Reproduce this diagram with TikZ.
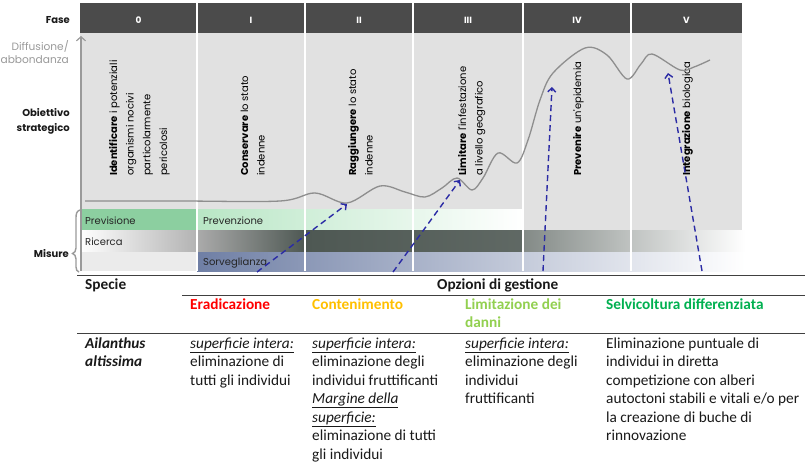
\documentclass[tikz,border=0pt]{standalone}
\usepackage{fontspec}
\setmainfont{Carlito}
\newfontfamily\popf{Poppins}
\usetikzlibrary{arrows.meta}
\definecolor{hdr}{HTML}{4B4B4B}
\definecolor{bodyg}{HTML}{E1E1E1}
\definecolor{axisg}{HTML}{9A9A9A}
\definecolor{curveg}{HTML}{8E8E8E}
\definecolor{arrb}{HTML}{2B2BA5}
\definecolor{grnA}{HTML}{8CCFA0}
\definecolor{grnB}{HTML}{B8E6C5}
\definecolor{darkb}{HTML}{4E5853}
\definecolor{survA}{HTML}{6F7FA5}
\definecolor{erad}{HTML}{FF0000}
\definecolor{cont}{HTML}{FFC000}
\definecolor{limitc}{HTML}{92D050}
\definecolor{selv}{HTML}{00B050}
\begin{document}
\begin{tikzpicture}[x=1pt,y=-1pt,
  hdrtxt/.style={text=white, font={\popf\bfseries\fontsize{9}{10}\selectfont}, inner sep=0, anchor=base},
  lbl/.style={font={\popf\bfseries\fontsize{10}{11}\selectfont}, text=black!90, inner sep=0, anchor=base east},
  difflbl/.style={font={\popf\fontsize{10.6}{11}\selectfont}, text=axisg, inner sep=0, anchor=base east},
  objtxt/.style={rotate=90, anchor=base west, inner sep=0, font={\popf\fontsize{10}{16.7}\selectfont}, text=black},
  bandtxt/.style={anchor=base west, inner sep=0, font={\popf\fontsize{10}{11}\selectfont}, text=black!85},
  tabtxt/.style={anchor=base west, inner sep=0, font={\fontsize{15.3}{18.5}\selectfont}, text=black!90},
  dasharr/.style={draw=arrb, line width=1.4pt, dash pattern=on 6pt off 4pt, -{Straight Barb[length=4pt,width=8pt]}},
  tabline/.style={draw=black!75, line width=0.9pt},
  divider/.style={draw=white, line width=1.3pt}]
\useasboundingbox (0,0) rectangle (805,466);
\fill[white] (0,0) rectangle (805,466);
% header and body
\fill[hdr] (80,3) rectangle (742,33);
\fill[bodyg] (80,33) rectangle (742,230.5);
% bands
\fill[grnA] (80,209) rectangle (197,230.5);
\shade[left color=grnB, right color=white] (197,209) rectangle (523,230.5);
\shade[left color=white, right color=black!30] (80,230.5) rectangle (197,252);
\shade[left color=black!33, right color=darkb] (197,230.5) rectangle (305,252);
\shade[left color=darkb, right color=darkb!90!white] (305,230.5) rectangle (523,252);
\shade[left color=darkb!70!white, right color=white] (523,230.5) rectangle (745,252);
\fill[black!8] (80,252) rectangle (197,271);
\shade[left color=survA, right color=white] (197,252) rectangle (745,271);
% dividers
\foreach \xx in {197,305,413,523,631} \draw[divider] (\xx,3) -- (\xx,271);
% header labels
\node[hdrtxt] (h0) at (138.5,23) {0};
\node[hdrtxt] (h1) at (251,23) {I};
\node[hdrtxt] (h2) at (359,23) {II};
\node[hdrtxt] (h3) at (468,23) {III};
\node[hdrtxt] (h4) at (577,23) {IV};
\node[hdrtxt] (h5) at (686.5,23) {V};
% left labels
\node[lbl] (fase) at (70,23) {Fase};
\node[difflbl] (diff1) at (69,50) {Diffusione/};
\node[difflbl] (diff2) at (69,63) {abbondanza};
\node[lbl] (obj1) at (70,116) {Obiettivo};
\node[lbl] (obj2) at (70,131) {strategico};
\node[lbl] (mis) at (69,257) {Misure};
% axis
\coordinate (axb) at (81,271);
\coordinate (axt) at (81,36);
\draw[axisg, line width=1.2pt, -{Straight Barb[length=4pt,width=9pt]}] (axb) -- (axt);
% brace
\draw[axisg, line width=1.4pt] (80,210) .. controls (76.5,211) and (76,214) .. (76,218) -- (76,248)
  .. controls (76,251) and (74.5,253) .. (72.5,253.5) .. controls (74.5,254) and (76,256) .. (76,259)
  -- (76,267) .. controls (76,270) and (77,271) .. (79,272);
% objective texts
\node[objtxt] (o0) at (117,176) {\vtop{\hbox{\textbf{Identificare} i potenziali}\hbox{organismi nocivi}\hbox{particolarmente}\hbox{pericolosi}}};
\node[objtxt] (o1) at (248,176) {\vtop{\hbox{\textbf{Conservare} lo stato}\hbox{indenne}}};
\node[objtxt] (o2) at (356,176) {\vtop{\hbox{\textbf{Raggiungere} lo stato}\hbox{indenne}}};
\node[objtxt] (o3) at (466,176) {\vtop{\hbox{\textbf{Limitare} l'infestazione}\hbox{a livello geografico}}};
\node[objtxt] (o4) at (581,176) {\vtop{\hbox{\textbf{Prevenire} un'epidemia}}};
\node[objtxt] (o5) at (690,176) {\vtop{\hbox{\textbf{Integrazione} biologica}}};
% band labels
\node[bandtxt] (b1) at (85,224) {Previsione};
\node[bandtxt] (b2) at (203,224) {Prevenzione};
\node[bandtxt] (b3) at (85,245) {Ricerca};
\node[bandtxt] (b4) at (203,265) {Sorveglianza};
% curve
\draw[curveg, line width=1.3pt] plot[smooth, tension=0.55] coordinates {
 (85,201) (180,201) (280,201) (315,193) (347,203) (380,186) (405,192) (425,197) (442,188)
 (457,178) (472,190) (483,178) (498,153) (517,163) (528,140) (540,100) (553,73) (585,48)
 (607,55) (627,79) (641,64) (652,54) (680,70) (694,67) (710,60)};
% arrows
\coordinate (a1s) at (257,272); \coordinate (a1e) at (347,204);
\coordinate (a2s) at (393,272); \coordinate (a2e) at (460,180);
\coordinate (a3s) at (543,271); \coordinate (a3e) at (552,87);
\coordinate (a4s) at (702,271); \coordinate (a4e) at (668,73);
\draw[dasharr] (a1s) -- (a1e);
\draw[dasharr] (a2s) -- (a2e);
\draw[dasharr] (a3s) -- (a3e);
\draw[dasharr] (a4s) -- (a4e);
% table
\draw[tabline] (77,275) -- (805,275);
\draw[tabline] (182,295) -- (805,295);
\draw[tabline] (77,333) -- (805,333);
\node[tabtxt] (specie) at (85,289) {\textbf{Specie}};
\node[tabtxt] (opz) at (437,289) {\textbf{Opzioni di gestione}};
\node[tabtxt, text=erad] (th1) at (190,309) {\textbf{Eradicazione}};
\node[tabtxt, text=cont] (th2) at (312,309) {\textbf{Contenimento}};
\node[tabtxt, text=limitc] (th3) at (465,309) {\vtop{\hbox{\textbf{Limitazione dei}}\hbox{\textbf{danni}}}};
\node[tabtxt, text=selv] (th4) at (606,309) {\textbf{Selvicoltura differenziata}};
\node[tabtxt] (sp) at (85,348) {\vtop{\hbox{\textbf{\textit{Ailanthus}}}\hbox{\textbf{\textit{altissima}}}}};
\node[tabtxt] (c1) at (190,348) {\vtop{\hbox{\underline{\textit{superficie intera:}}}\hbox{eliminazione di}\hbox{tutti gli individui}}};
\node[tabtxt] (c2) at (312,348) {\vtop{\hbox{\underline{\textit{superficie intera:}}}\hbox{eliminazione degli}\hbox{individui fruttificanti}\hbox{\underline{\textit{Margine della}}}\hbox{\underline{\textit{superficie:}}}\hbox{eliminazione di tutti}\hbox{gli individui}}};
\node[tabtxt] (c3) at (465,348) {\vtop{\hbox{\underline{\textit{superficie intera:}}}\hbox{eliminazione degli}\hbox{individui}\hbox{fruttificanti}}};
\node[tabtxt] (c4) at (606,348) {\vtop{\hbox{Eliminazione puntuale di}\hbox{individui in diretta}\hbox{competizione con alberi}\hbox{autoctoni stabili e vitali e/o per}\hbox{la creazione di buche di}\hbox{rinnovazione}}};
\end{tikzpicture}
\end{document}
